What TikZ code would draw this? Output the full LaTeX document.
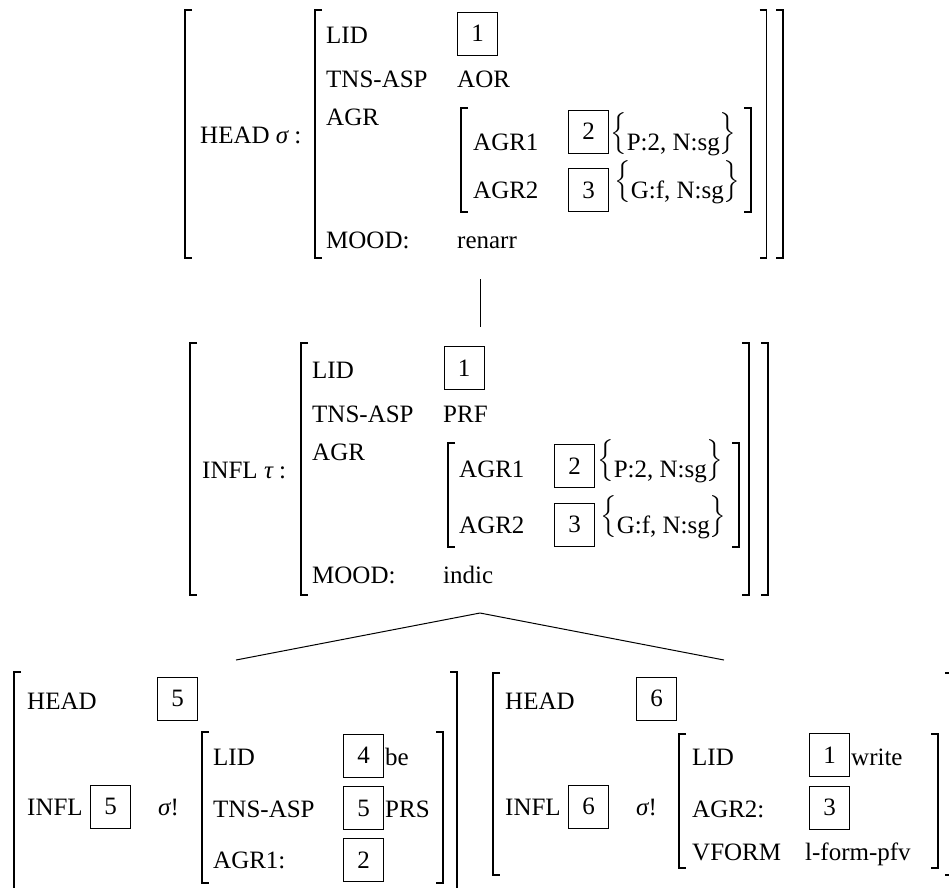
\documentclass[tikz,border=0pt]{standalone}
\usepackage{fontspec}
\usepackage{amsmath}
\usepackage{graphicx}
\setmainfont{Liberation Serif}
\newcommand\AvmL[3]{\draw[brk] (#1,#2) ++(7,0) -- ++(-7,0) -- (#1,#3) -- ++(7,0);}
\newcommand\AvmR[3]{\draw[brk] (#1,#2) ++(-7,0) -- ++(7,0) -- (#1,#3) -- ++(-7,0);}
\newcommand\BrL{\raisebox{-5pt}{\resizebox*{\width}{42pt}{\raisebox{\depth}{$\Bigl\{$}}}}
\newcommand\BrR{\raisebox{-5pt}{\resizebox*{\width}{42pt}{\raisebox{\depth}{$\Bigr\}$}}}}
\newcommand\sig{{\itshape σ}}
\newcommand\tauchar{{\itshape τ}}
\tikzset{
  txt/.style={anchor=base west, inner sep=0pt, font=\fontsize{25}{30}\selectfont},
  tag/.style={draw, line width=1pt, inner sep=0pt, minimum width=40pt, minimum height=43pt, font=\fontsize{25}{30}\selectfont},
  brk/.style={line width=1.4pt},
  tree/.style={line width=1pt}
}
\begin{document}
\begin{tikzpicture}[x=1pt,y=-1pt]
\useasboundingbox (0,0) rectangle (949,887);
\clip (0,0) rectangle (949,887);
% ---------------- top AVM ----------------
\AvmL{185}{10}{258}
\AvmL{315}{10}{258}
\AvmR{766.5}{10}{258}
\AvmR{783}{10}{258}
\node[txt] (thead) at (200,143) {HEAD \sig\ :};
\node[txt] (tlid) at (326,43) {LID};
\node[tag] (tb1) at (477.5,33.5) {1};
\node[txt] (ttns) at (326,87) {TNS-ASP};
\node[txt] (taor) at (457,87) {AOR};
\node[txt] (tagr) at (326,125) {AGR};
\AvmL{461}{108}{212}
\AvmR{751}{108}{212}
\node[txt] (tagr1) at (473,150) {AGR1};
\node[tag] (tb2) at (588.5,131.5) {2};
\node[txt] (tf1) at (610,150) {\BrL P:2, N:sg\BrR};
\node[txt] (tagr2) at (473,198) {AGR2};
\node[tag] (tb3) at (588.5,190) {3};
\node[txt] (tf2) at (614,198) {\BrL G:f, N:sg\BrR};
\node[txt] (tmood) at (326,248) {MOOD:};
\node[txt] (tren) at (457,248) {renarr};
% connector
\coordinate (topfoot) at (480,279);
\coordinate (midhead) at (480,327);
\draw[tree] (topfoot) -- (midhead);
% ---------------- middle AVM ----------------
\AvmL{190}{343}{595}
\AvmL{301}{343}{595}
\AvmR{749}{343}{595}
\AvmR{768}{343}{595}
\node[txt] (minfl) at (202,478) {INFL \tauchar\ :};
\node[txt] (mlid) at (312,378) {LID};
\node[tag] (mb1) at (464,368) {1};
\node[txt] (mtns) at (312,422) {TNS-ASP};
\node[txt] (mprf) at (443,422) {PRF};
\node[txt] (magr) at (312,460) {AGR};
\AvmL{448}{443}{547}
\AvmR{739}{443}{547}
\node[txt] (magr1) at (459,477) {AGR1};
\node[tag] (mb2) at (574.5,466) {2};
\node[txt] (mf1) at (597,477) {\BrL P:2, N:sg\BrR};
\node[txt] (magr2) at (459,533) {AGR2};
\node[tag] (mb3) at (574.5,524.5) {3};
\node[txt] (mf2) at (600,533) {\BrL G:f, N:sg\BrR};
\node[txt] (mmood) at (312,583) {MOOD:};
\node[txt] (mind) at (443,583) {indic};
% tree
\coordinate (apex) at (480,613);
\coordinate (lfoot) at (236,660);
\coordinate (rfoot) at (724,660);
\draw[tree] (lfoot) -- (apex) -- (rfoot);
% ---------------- bottom left AVM ----------------
\AvmL{14}{672}{905}
\AvmR{457}{672}{905}
\node[txt] (lhead) at (27,709) {HEAD};
\node[tag] (lh5) at (177.5,698.5) {5};
\node[txt] (linfl) at (27,815) {INFL};
\node[tag] (li5) at (110.5,806.5) {5};
\node[txt] (lsig) at (158,815) {\sig!};
\AvmL{202}{732}{883}
\AvmR{443}{732}{883}
\node[txt] (llid) at (213,765) {LID};
\node[tag] (lb4) at (363.5,755.5) {4};
\node[txt] (lbe) at (385,765) {be};
\node[txt] (ltns) at (213,817) {TNS-ASP};
\node[tag] (lb5) at (363.5,808) {5};
\node[txt] (lprs) at (385,817) {PRS};
\node[txt] (lagr1) at (213,868) {AGR1:};
\node[tag] (lb2) at (363.5,860) {2};
% ---------------- bottom right AVM ----------------
\AvmL{493}{673}{875}
\AvmR{952}{673}{875}
\node[txt] (rhead) at (505,709) {HEAD};
\node[tag] (rh6) at (656.5,698.5) {6};
\node[txt] (rinfl) at (505,815) {INFL};
\node[tag] (ri6) at (588.5,806.5) {6};
\node[txt] (rsig) at (636,815) {\sig!};
\AvmL{679}{734}{868}
\AvmR{938}{734}{868}
\node[txt] (rlid) at (692,765) {LID};
\node[tag] (rb1) at (829.5,755) {1};
\node[txt] (rwrite) at (851,765) {write};
\node[txt] (ragr2) at (692,817) {AGR2:};
\node[tag] (rb3) at (829.5,807.5) {3};
\node[txt] (rvf) at (692,860) {VFORM};
\node[txt] (rlf) at (805,860) {l-form-pfv};
\end{tikzpicture}
\end{document}
